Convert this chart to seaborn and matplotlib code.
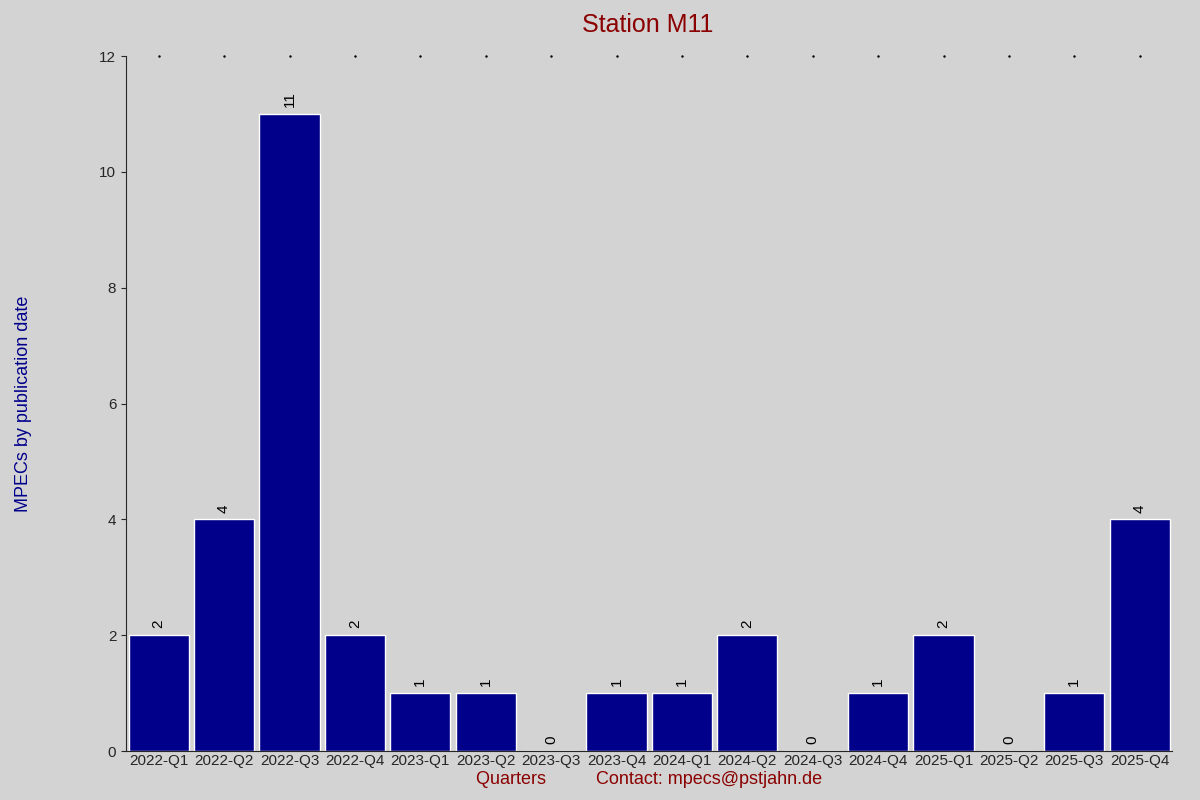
import matplotlib
matplotlib.use("Agg")
import matplotlib.pyplot as plt
import seaborn as sns
import pandas as pd

quarters = ["2022-Q1","2022-Q2","2022-Q3","2022-Q4","2023-Q1","2023-Q2","2023-Q3","2023-Q4",
            "2024-Q1","2024-Q2","2024-Q3","2024-Q4","2025-Q1","2025-Q2","2025-Q3","2025-Q4"]
counts = [2,4,11,2,1,1,0,1,1,2,0,1,2,0,1,4]

sns.set_style("ticks")
plt.rcParams['font.family'] = ['Liberation Sans', 'DejaVu Sans']
bg = "#d3d3d3"
fig = plt.figure(figsize=(12, 8), dpi=100, facecolor=bg)
ax = fig.add_axes([0.105, 0.061, 0.872, 0.869], facecolor=bg)
df = pd.DataFrame({"q": quarters, "n": counts})
sns.barplot(data=df, x="q", y="n", color="#00008b", saturation=1, width=0.92, ax=ax)
ax.set_ylim(0, 12)
ax.set_xlim(-0.5, len(quarters) - 0.5)
ax.set_yticks(range(0, 13, 2))
for i, v in enumerate(counts):
    ax.text(i, v + 0.12, str(v), rotation=90, ha="center", va="bottom", fontsize=11, color="black")
    ax.plot(i, 12, marker=".", markersize=1.5, color="black", clip_on=False)
for s in ["top", "right"]:
    ax.spines[s].set_visible(False)
ax.tick_params(axis="x", length=0, labelsize=11, pad=2)
ax.tick_params(axis="y", labelsize=11)
ax.set_xlabel("Quarters          Contact: mpecs@pstjahn.de", color="#8b0000", fontsize=13, labelpad=2)
ax.set_ylabel("MPECs by publication date", color="#00008b", fontsize=13, labelpad=30)
ax.yaxis.set_label_coords(-0.09, 0.5)
fig.text(0.54, 0.96, "Station M11", ha="center", color="#8b0000", fontsize=18)
fig.savefig("out.png", dpi=100, facecolor=bg)
